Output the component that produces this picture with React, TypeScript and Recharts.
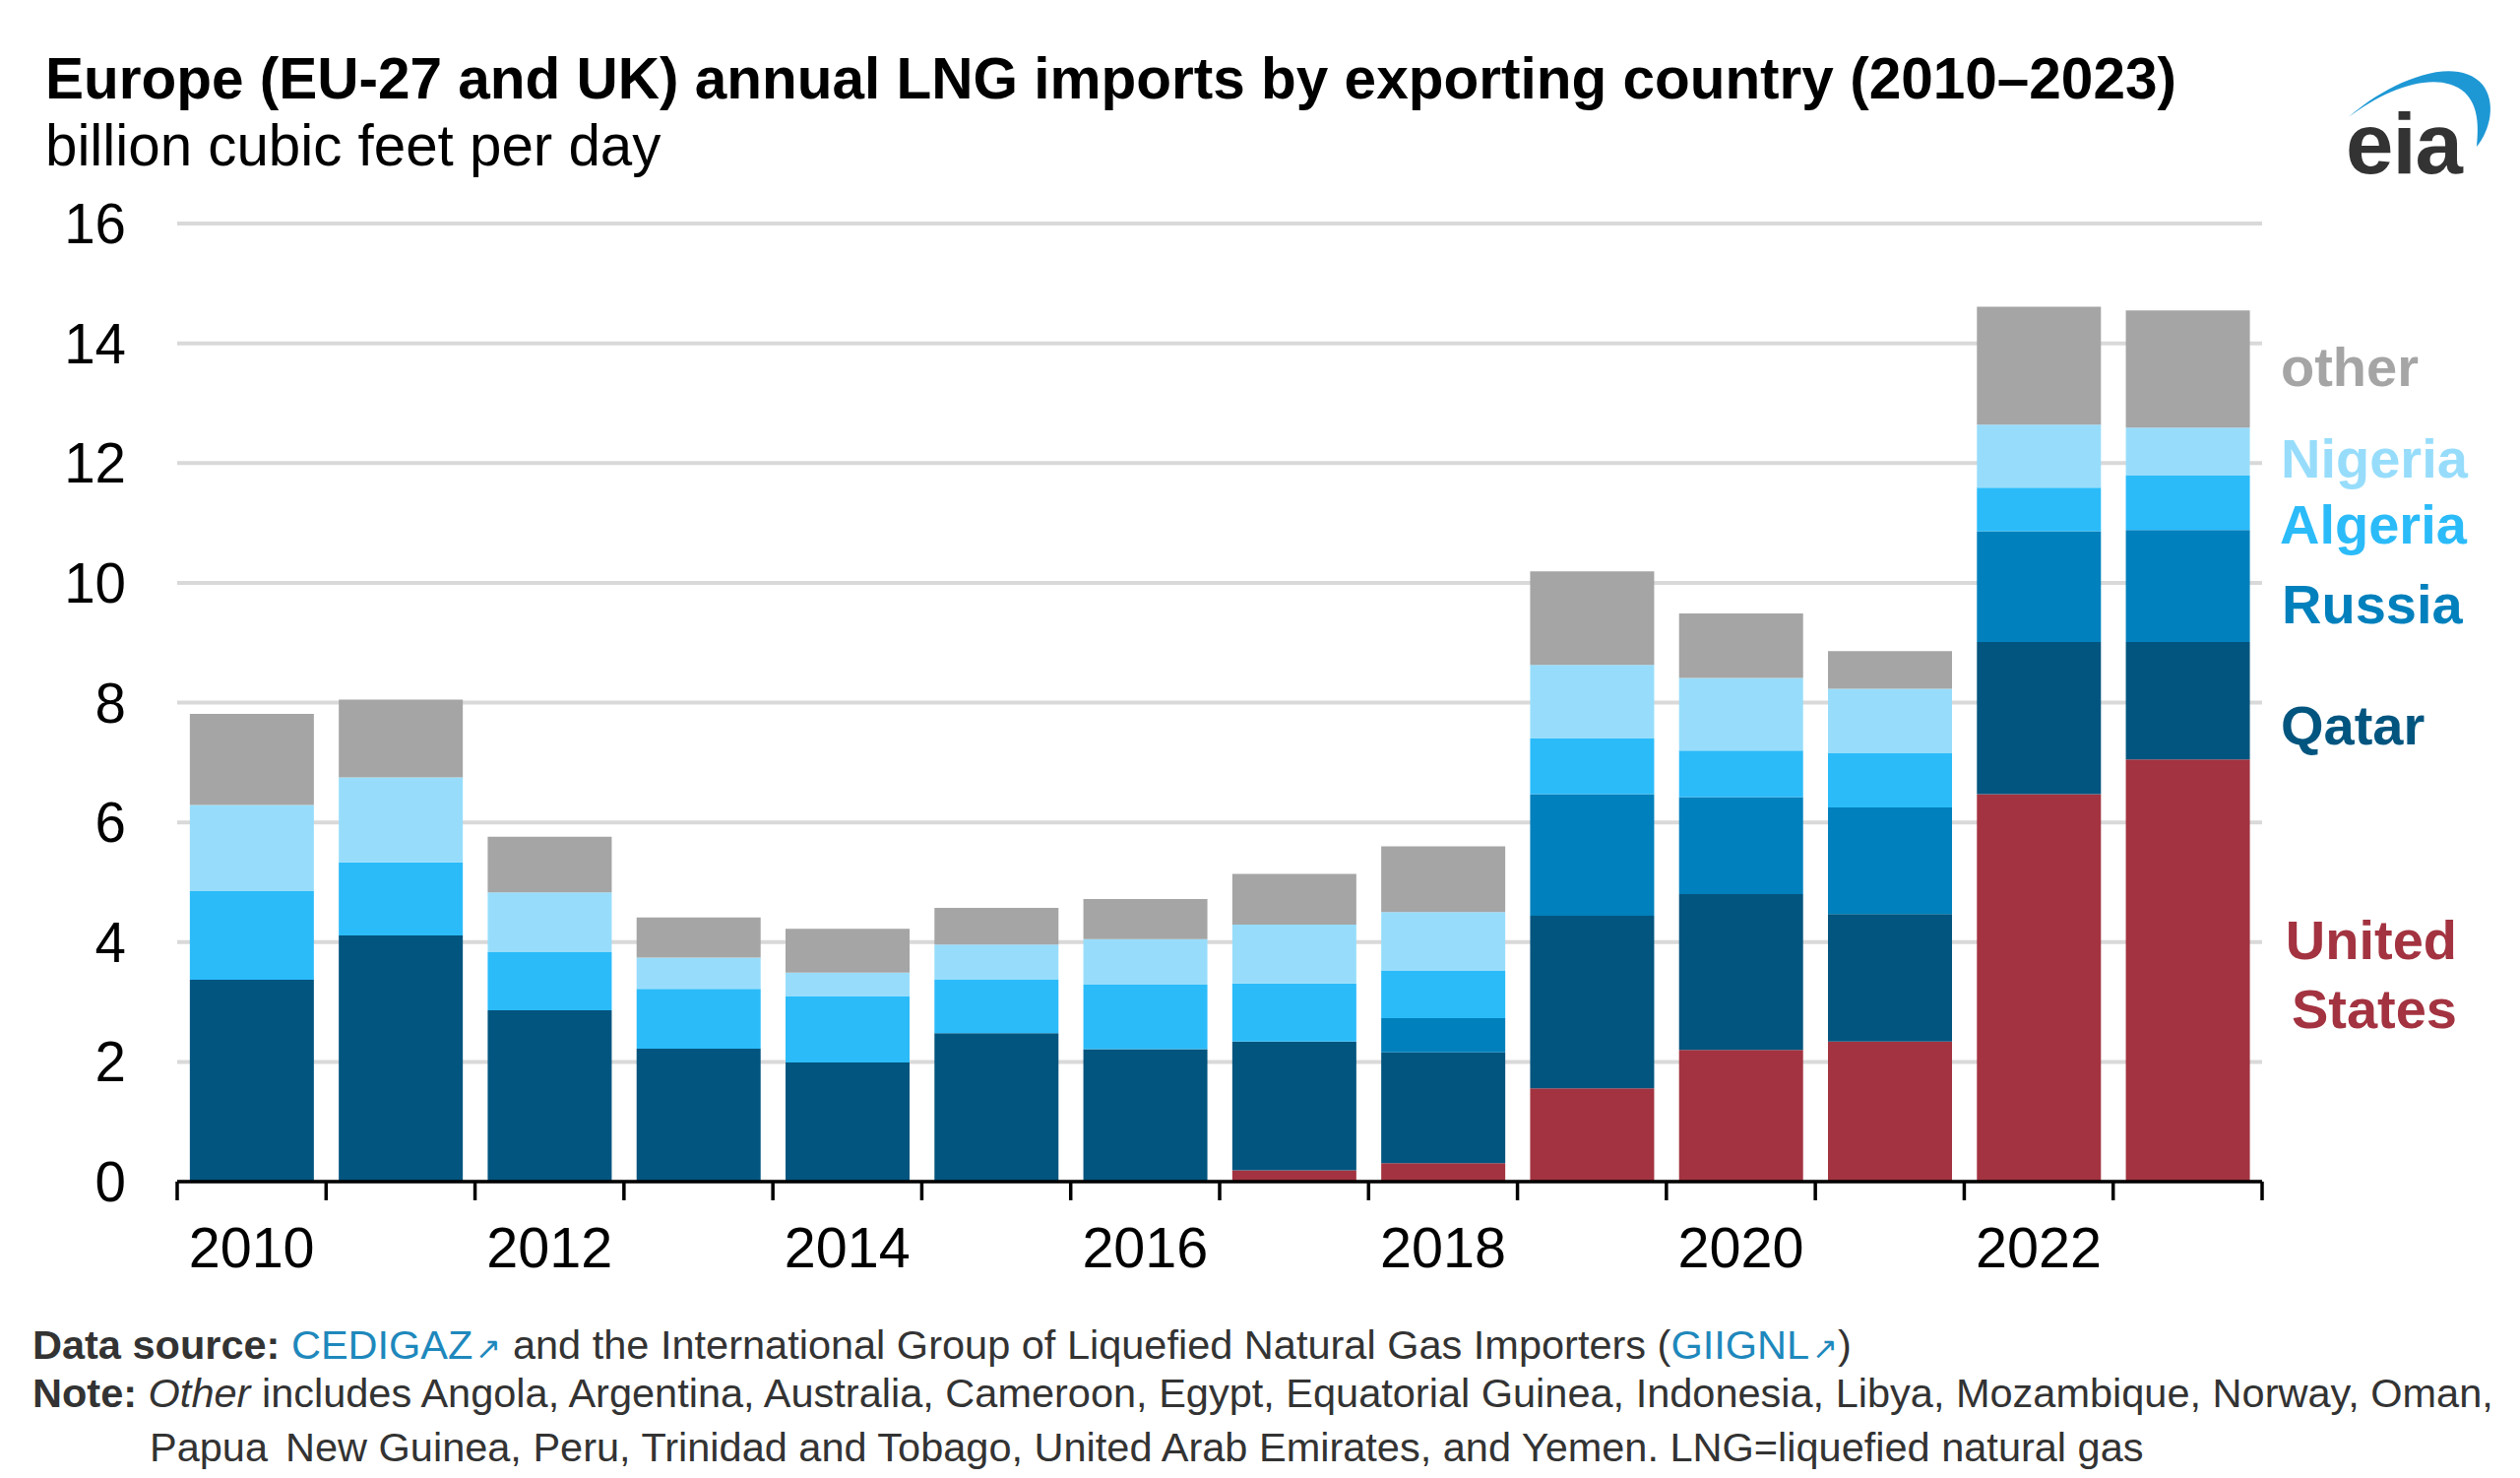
import React from 'react';
import { BarChart, Bar, XAxis, YAxis, CartesianGrid } from 'recharts';

const years = ['2010', '2011', '2012', '2013', '2014', '2015', '2016', '2017', '2018', '2019', '2020', '2021', '2022', '2023'];
const unitedStates = [0, 0, 0, 0, 0, 0, 0, 0.19, 0.31, 1.56, 2.2, 2.34, 6.47, 7.05];
const qatar = [3.37, 4.11, 2.86, 2.22, 1.99, 2.48, 2.21, 2.15, 1.85, 2.88, 2.6, 2.13, 2.54, 1.96];
const russia = [0, 0, 0, 0, 0, 0, 0, 0, 0.57, 2.03, 1.62, 1.78, 1.85, 1.87];
const algeria = [1.48, 1.22, 0.97, 1.0, 1.11, 0.9, 1.08, 0.97, 0.79, 0.93, 0.78, 0.91, 0.73, 0.91];
const nigeria = [1.44, 1.42, 1.0, 0.52, 0.39, 0.58, 0.76, 0.98, 0.98, 1.23, 1.21, 1.07, 1.05, 0.8];
const other = [1.52, 1.3, 0.93, 0.67, 0.73, 0.61, 0.67, 0.85, 1.1, 1.56, 1.08, 0.63, 1.97, 1.96];
const yTicks = [0, 2, 4, 6, 8, 10, 12, 14, 16];

const COLORS = {
  us: '#A33340',
  qatar: '#02557F',
  russia: '#0080BC',
  algeria: '#2BBBF9',
  nigeria: '#97DDFB',
  other: '#A5A5A5',
};

const FONT = '"Liberation Sans", Arial, Helvetica, sans-serif';
const LINK = '#1E88BC';
const NOTE = '#333333';
const NOTE_SIZE = 41.5;

const data = years.map((year, i) => ({
  year,
  us: unitedStates[i],
  qatar: qatar[i],
  russia: russia[i],
  algeria: algeria[i],
  nigeria: nigeria[i],
  other: other[i],
}));

const XTick = (props: any) => {
  const { x, y, payload, index } = props;
  const half = payload && typeof payload.offset === 'number' && payload.offset > 0
    ? payload.offset
    : (props.width || 2118) / (2 * years.length);
  const isLast = index === years.length - 1;
  return (
    <g>
      <line x1={x - half} x2={x - half} y1={y} y2={y + 19} stroke="#000" strokeWidth={3.5} />
      {isLast && <line x1={x + half} x2={x + half} y1={y} y2={y + 19} stroke="#000" strokeWidth={3.5} />}
      {index % 2 === 0 && (
        <text x={x} y={y + 87} textAnchor="middle" fontSize={57.5} fill="#000" fontFamily={FONT}>
          {payload.value}
        </text>
      )}
    </g>
  );
};

const legendLabels = [
  { text: 'other', color: COLORS.other, x: 2317, y: 392, anchor: 'start' },
  { text: 'Nigeria', color: COLORS.nigeria, x: 2317, y: 485, anchor: 'start' },
  { text: 'Algeria', color: COLORS.algeria, x: 2316, y: 552, anchor: 'start' },
  { text: 'Russia', color: COLORS.russia, x: 2318, y: 633, anchor: 'start' },
  { text: 'Qatar', color: COLORS.qatar, x: 2317, y: 756, anchor: 'start' },
  { text: 'United', color: COLORS.us, x: 2496, y: 974, anchor: 'end' },
  { text: 'States', color: COLORS.us, x: 2496, y: 1044, anchor: 'end' },
];

const LinkIcon = ({ size }: { size: number }) => (
  <tspan fill={LINK} fontSize={size * 0.75} dx={3}>↗</tspan>
);

export default function App() {
  return (
    <div style={{ position: 'absolute', left: 0, top: 0, width: 2560, height: 1501, background: '#fff', overflow: 'hidden' }}>
      <BarChart
        width={2560}
        height={1501}
        data={data}
        margin={{ top: 227, right: 262, bottom: 0, left: 0 }}
        barCategoryGap="8.5%"
      >
        <CartesianGrid vertical={false} stroke="#D9D9D9" strokeWidth={4} />
        <XAxis
          dataKey="year"
          height={301}
          interval={0}
          tickSize={0}
          tickMargin={0}
          tickLine={false}
          axisLine={{ stroke: '#000', strokeWidth: 3.5 }}
          tick={<XTick />}
        />
        <YAxis
          width={180}
          domain={[0, 16]}
          ticks={yTicks}
          interval={0}
          tickSize={0}
          tickMargin={52}
          axisLine={false}
          tickLine={false}
          tick={{ fontSize: 56.5, fill: '#000', fontFamily: FONT }}
        />
        <Bar dataKey="us" stackId="a" fill={COLORS.us} isAnimationActive={false} />
        <Bar dataKey="qatar" stackId="a" fill={COLORS.qatar} isAnimationActive={false} />
        <Bar dataKey="russia" stackId="a" fill={COLORS.russia} isAnimationActive={false} />
        <Bar dataKey="algeria" stackId="a" fill={COLORS.algeria} isAnimationActive={false} />
        <Bar dataKey="nigeria" stackId="a" fill={COLORS.nigeria} isAnimationActive={false} />
        <Bar dataKey="other" stackId="a" fill={COLORS.other} isAnimationActive={false} />
      </BarChart>
      <svg
        width={2560}
        height={1501}
        style={{ position: 'absolute', left: 0, top: 0, pointerEvents: 'none' }}
        fontFamily={FONT}
      >
        <text x={46} y={100} fontSize={58.5} fontWeight="bold" fill="#000">
          Europe (EU-27 and UK) annual LNG imports by exporting country (2010–2023)
        </text>
        <text x={46} y={168} fontSize={58.3} fill="#000">
          billion cubic feet per day
        </text>

        {legendLabels.map((l) => (
          <text key={l.text} x={l.x} y={l.y} fontSize={56} fontWeight="bold" fill={l.color} textAnchor={l.anchor as any}>
            {l.text}
          </text>
        ))}

        {/* eia logo */}
        <path
          d="M2386,119 C2420,88 2492,52 2522,86 C2536,104 2530,132 2516,149 C2518,128 2518,108 2504,94 C2476,70 2424,90 2386,119 Z"
          fill="#1E98D5"
        />
        <text x={2383} y={176} fontSize={87} fontWeight="bold" fill="#333333" letterSpacing={-1}>
          eia
        </text>

        <text x={33} y={1380} fontSize={NOTE_SIZE} fill={NOTE}>
          <tspan fontWeight="bold">Data source:</tspan>
          <tspan> </tspan>
          <tspan fill={LINK}>CEDIGAZ</tspan>
          <LinkIcon size={NOTE_SIZE} />
          <tspan> and the International Group of Liquefied Natural Gas Importers (</tspan>
          <tspan fill={LINK}>GIIGNL</tspan>
          <LinkIcon size={NOTE_SIZE} />
          <tspan>)</tspan>
        </text>
        <text x={33} y={1429} fontSize={NOTE_SIZE} fill={NOTE}>
          <tspan fontWeight="bold">Note:</tspan>
          <tspan> </tspan>
          <tspan fontStyle="italic">Other</tspan>
          <tspan> includes Angola, Argentina, Australia, Cameroon, Egypt, Equatorial Guinea, Indonesia, Libya, Mozambique, Norway, Oman,</tspan>
        </text>
        <text x={152} y={1484} fontSize={NOTE_SIZE} fill={NOTE}>
          Papua
        </text>
        <text x={290} y={1484} fontSize={NOTE_SIZE} fill={NOTE}>
          New Guinea, Peru, Trinidad and Tobago, United Arab Emirates, and Yemen. LNG=liquefied natural gas
        </text>
      </svg>
    </div>
  );
}
